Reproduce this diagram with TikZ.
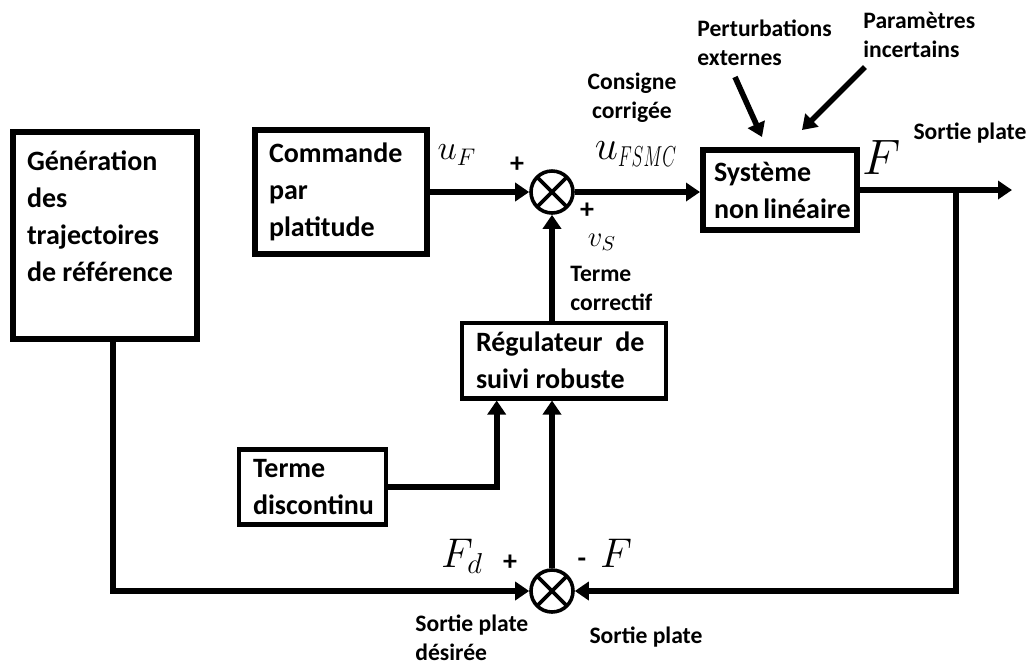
\documentclass[tikz,border=0pt]{standalone}
\usepackage{amsmath}
\usepackage{graphicx}
\usepackage{fontspec}
\setmainfont{Carlito}
\usetikzlibrary{arrows.meta,calc}

\tikzset{
  bloc/.style={draw, line width=3pt, align=flush left, inner xsep=7pt, inner ysep=0pt,
    font=\fontsize{14}{18.5}\selectfont\bfseries},
  petitbloc/.style={bloc, line width=2.3pt},
  somme/.style={draw, circle, line width=1.8pt, minimum size=21pt, inner sep=0pt,
    path picture={\draw[line width=1.8pt]
      (path picture bounding box.south west) -- (path picture bounding box.north east)
      (path picture bounding box.north west) -- (path picture bounding box.south east);}},
  fleche/.style={line width=2.8pt, -{Triangle[length=7pt,width=9pt]}},
  legende/.style={align=flush left, inner sep=0pt, font=\fontsize{11.8}{14.5}\selectfont\bfseries},
  signe/.style={inner sep=0pt, font=\fontsize{14}{14}\selectfont\bfseries},
  maths/.style={inner sep=0pt},
}

\begin{document}
\begin{tikzpicture}[x=0.5pt, y=-0.5pt]
    \useasboundingbox (0,0) rectangle (1035,666);

    % blocs
    \node[bloc, minimum height=103.5pt] (gen) at (105,235)
        {\begin{minipage}[c][84pt][t]{78pt}\raggedright
         Génération\\des\\trajectoires\\de~référence\end{minipage}};
    \node[bloc, text width=72pt, minimum height=62pt] (cmd) at (341,192)
        {Commande\\par\\platitude};
    \node[bloc, text width=66pt, minimum height=40pt, inner xsep=5.5pt] (sys) at (780,190)
        {Système\\non~linéaire};
    \node[petitbloc, text width=88pt, minimum height=37.7pt] (reg) at (564,360.5)
        {Régulateur~~de\\suivi~robuste};
    \node[petitbloc, text width=59.5pt, minimum height=37.7pt] (disc) at (312.5,487)
        {Terme\\discontinu};

    % sommateurs
    \node[somme] (sumA) at (552,192) {};
    \node[somme] (sumB) at (552,591) {};

    % liaisons
    \coordinate (branche) at (956,190);
    \coordinate (sortie) at (1012,190);
    \draw[fleche] (cmd.east) -- (sumA.west);
    \draw[fleche] (sumA.east) -- (sumA.east -| sys.west);
    \draw[fleche] (sys.east) -- (sortie);
    \draw[fleche] (branche) |- (sumB.east);
    \draw[fleche] ([xshift=4pt]gen.south) |- (sumB.west);
    \draw[fleche] (sumB.north) -- (sumB.north |- reg.south);
    \draw[fleche] (reg.north -| sumA.south) -- (sumA.south);
    \draw[fleche] (disc.east) -| ($(reg.south west)+(37,0)$);

    % perturbations
    \coordinate (pertA) at (735,77);
    \coordinate (pertB) at (762,137);
    \coordinate (paramA) at (865,67);
    \coordinate (paramB) at (802,130);
    \draw[fleche] (pertA) -- (pertB);
    \draw[fleche] (paramA) -- (paramB);

    % textes
    \node[legende, align=center] (consigne) at (632,98) {Consigne\\corrigée};
    \node[legende, anchor=west] (correctif) at (570,288) {Terme\\correctif};
    \node[legende, anchor=west] (pert) at (697,43) {Perturbations\\externes};
    \node[legende, anchor=west] (param) at (863,35) {Paramètres\\incertains};
    \node[legende] (sortieF) at (970,133) {Sortie plate};
    \node[legende, anchor=west] (desiree) at (415,638) {Sortie plate\\désirée};
    \node[legende] (sortieB) at (646,637) {Sortie plate};

    \node[maths] (uF) at (457,155) {\fontsize{17.28}{17}\selectfont $u_F$};
    \node[maths] (uFSMC) at (636,154)
        {\fontsize{20.74}{21}\selectfont $u_{\scalebox{0.62}[1]{$\scriptstyle FSMC$}}$};
    \node[maths] (Fs) at (882,157) {\fontsize{24.88}{25}\selectfont $F$};
    \node[maths] (vS) at (602,242) {\fontsize{14.4}{14}\selectfont $v_S$};
    \node[signe] (pA) at (517,165) {+};
    \node[signe] (pB) at (587,211) {+};
    \node[maths] (Fd) at (462,556) {\fontsize{20.74}{21}\selectfont $F_d$};
    \node[signe] (pC) at (510,563) {+};
    \node[signe] (mC) at (582,563) {-};
    \node[maths] (Fb) at (616,553) {\fontsize{20.74}{21}\selectfont $F$};

\end{tikzpicture}
\end{document}
